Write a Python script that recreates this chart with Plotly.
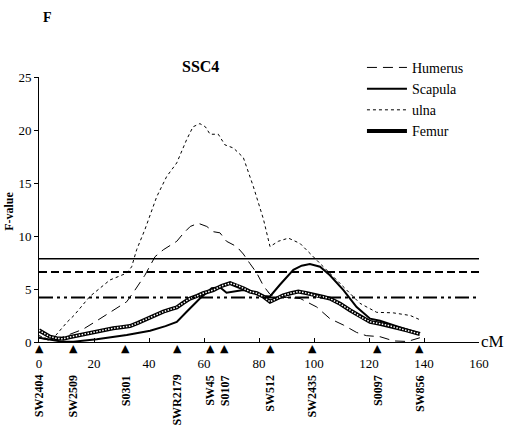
import plotly.graph_objects as go

# ---------- F-value profiles along SSC4 (cM) ----------
humerus_x = [0, 4, 8, 12, 16, 21, 25.8, 31.9, 34.9, 38.5, 42.2, 45.2, 50.1, 52.5, 55, 57.9, 61, 63.5,
             65.8, 68.2, 71.9, 74.3, 76.7, 79.2, 81.6, 84, 87, 90, 95, 98, 101, 105.8, 110.7, 115.5,
             119, 124, 129, 134, 138.5]
humerus_y = [0.4, 0.15, 0.4, 0.8, 1.2, 2.0, 2.8, 3.8, 4.9, 6.3, 8.05, 8.7, 9.5, 10.25, 10.9, 11.2, 10.9, 10.4,
             10.3, 9.5, 9.0, 8.3, 7.4, 6.5, 5.3, 4.5, 4.2, 4.2, 4.1, 3.7, 3.3, 2.2, 1.6, 0.9,
             0.6, 0.5, 0.1, 0.05, 0.4]

scapula_x = [0, 4, 8, 12.5, 21, 31.9, 40.4, 46, 50.1, 53.7, 58.5, 62.8, 65.8, 68.2, 71.9, 74.3, 76.7,
             79.2, 81.6, 84, 87.6, 92.5, 95.5, 98.5, 102.2, 105.8, 110.7, 115.5, 120.4, 124, 130, 134, 138.5]
scapula_y = [0.4, 0.2, 0.05, 0.03, 0.25, 0.66, 1.07, 1.5, 1.9, 2.86, 4.1, 5.07, 5.16, 4.65, 4.8, 4.9, 4.75,
             4.6, 4.35, 4.3, 5.4, 6.8, 7.2, 7.35, 7.1, 6.3, 4.9, 3.3, 2.2, 2.0, 1.5, 1.2, 0.8]

ulna_x = [0, 3, 6, 8, 10.3, 12.7, 18.5, 25.8, 31.9, 33.7, 35.5, 38.5, 42.8, 46.4, 50.1, 53.7, 56, 58.5,
          60.5, 62.2, 65.2, 67.6, 70.7, 74.3, 77.9, 81.6, 84, 87, 90.7, 94.9, 99.8, 104.6, 110.7, 116.7,
          122.8, 128.8, 135, 138.5]
ulna_y = [0.6, 0.3, 0.6, 1.2, 1.9, 2.5, 4.3, 5.85, 6.5, 7.1, 8.7, 10.6, 13.7, 15.6, 16.9, 19.1, 20.3, 20.6,
          20.3, 19.6, 19.6, 18.6, 18.3, 17.4, 14.7, 11.6, 9.0, 9.5, 9.8, 9.3, 8.05, 6.8, 5.2, 3.65,
          2.8, 2.75, 2.5, 2.1]

femur_x = [0, 2, 4, 6.4, 8.8, 11, 14.9, 18, 21, 24, 27, 30, 33.1, 36, 39.2, 42, 45.2, 48, 50.1, 52.5,
           54.9, 57.5, 59.7, 63.4, 66.5, 69.5, 72, 74.3, 76.7, 79.2, 81.5, 84, 86.5, 88.8, 91.5, 94.3,
           97.5, 101, 103.5, 105.8, 109.5, 113.1, 116.8, 120.4, 123.5, 126.4, 130, 133.7, 136, 138.5]
femur_y = [1.1, 0.8, 0.5, 0.35, 0.3, 0.45, 0.66, 0.85, 0.97, 1.15, 1.3, 1.4, 1.5, 1.8, 2.2, 2.5, 2.86, 3.1,
           3.27, 3.7, 4.1, 4.35, 4.6, 4.9, 5.3, 5.55, 5.35, 5.07, 4.75, 4.6, 4.3, 3.8, 4.1, 4.4, 4.6, 4.75,
           4.6, 4.34, 4.25, 4.1, 3.6, 3.0, 2.4, 1.9, 1.75, 1.6, 1.35, 1.1, 0.95, 0.75]

# significance thresholds
thresholds = [7.85, 6.6, 4.2]

# markers on the linkage map
marker_names = ['SW2404', 'SW2509', 'S0301', 'SWR2179', 'SW45', 'S0107', 'SW512', 'SW2435', 'S0097', 'SW856']
marker_pos = [0, 12.5, 31.6, 50.3, 62.4, 67.6, 84.2, 99.4, 123.2, 138.5]

x_ticks = [0, 20, 40, 60, 80, 100, 120, 140, 160]
y_ticks = [0, 5, 10, 15, 20, 25]

FONT = 'Times New Roman, Liberation Serif, DejaVu Serif, serif'

fig = go.Figure()

fig.add_trace(go.Scatter(x=humerus_x, y=humerus_y, name='Humerus', mode='lines',
                         line=dict(color='black', width=1, dash='10px,6px')))
fig.add_trace(go.Scatter(x=scapula_x, y=scapula_y, name='Scapula', mode='lines',
                         line=dict(color='black', width=2)))
fig.add_trace(go.Scatter(x=ulna_x, y=ulna_y, name='ulna', mode='lines',
                         line=dict(color='black', width=1, dash='3px,3px')))
# femur: thick line with a white dotted core gives the chain-of-squares look
fig.add_trace(go.Scatter(x=femur_x, y=femur_y, name='Femur', mode='lines',
                         line=dict(color='black', width=4)))
fig.add_trace(go.Scatter(x=femur_x, y=femur_y, showlegend=False, mode='lines', hoverinfo='skip',
                         line=dict(color='white', width=1.5, dash='1.5px,1.5px')))

# threshold lines
styles = [dict(width=1.5, dash='solid'), dict(width=2, dash='8px,4px'),
          dict(width=2, dash='14px,4px,3px,4px,3px,4px')]
for t, st in zip(thresholds, styles):
    fig.add_shape(type='line', xref='x', yref='y', x0=0, x1=160, y0=t, y1=t,
                  line=dict(color='black', **st))

# triangles + rotated names for the markers
for name, pos in zip(marker_names, marker_pos):
    fig.add_annotation(x=pos, y=0, xref='x', yref='paper', text='▲', showarrow=False,
                       xanchor='center', yanchor='top', yshift=2,
                       font=dict(family='DejaVu Sans', size=11, color='black'))
    fig.add_annotation(x=pos, y=-0.116, xref='x', yref='paper', text='<b>' + name + '</b>', showarrow=False,
                       textangle=-90, xanchor='center', yanchor='top',
                       font=dict(family=FONT, size=12, color='black'))

fig.add_annotation(x=0.366, y=1.038, xref='paper', yref='paper', text='<b>SSC4</b>', showarrow=False,
                   yanchor='middle', font=dict(family=FONT, size=16, color='black'))
fig.add_annotation(x=0.02, y=1.226, xref='paper', yref='paper', text='<b>F</b>', showarrow=False,
                   xanchor='center', yanchor='middle', font=dict(family=FONT, size=14, color='black'))
fig.add_annotation(x=-0.070, y=12.3, xref='paper', yref='y', text='<b>F-value</b>', showarrow=False,
                   textangle=-90, xanchor='center', yanchor='middle',
                   font=dict(family=FONT, size=12, color='black'))
fig.add_annotation(x=1.0, y=0, xref='paper', yref='y', text='cM', showarrow=False,
                   xanchor='left', yanchor='middle', yshift=1,
                   font=dict(family=FONT, size=17, color='black'))

fig.update_layout(
    width=515, height=433,
    margin=dict(l=39, r=36, t=77, b=91),
    paper_bgcolor='white', plot_bgcolor='white',
    font=dict(family=FONT, size=13, color='black'),
    showlegend=True,
    legend=dict(x=0.734, y=1.095, xanchor='left', yanchor='top', bgcolor='rgba(0,0,0,0)',
                font=dict(family=FONT, size=14), tracegroupgap=0, itemwidth=40),
)
fig.update_xaxes(range=[0, 160], tickvals=x_ticks, showgrid=False, zeroline=False,
                 showline=True, linecolor='black', linewidth=1, ticks='inside', ticklen=4,
                 tickcolor='black', tickfont=dict(family=FONT, size=13), ticklabelstandoff=9)
fig.update_yaxes(range=[0, 25], tickvals=y_ticks, showgrid=False, zeroline=False,
                 showline=True, linecolor='black', linewidth=1, ticks='outside', ticklen=4,
                 tickcolor='black', tickfont=dict(family=FONT, size=13))

fig.write_html('out.html', config={'displayModeBar': False},
               post_script="document.body.style.margin='0';")
